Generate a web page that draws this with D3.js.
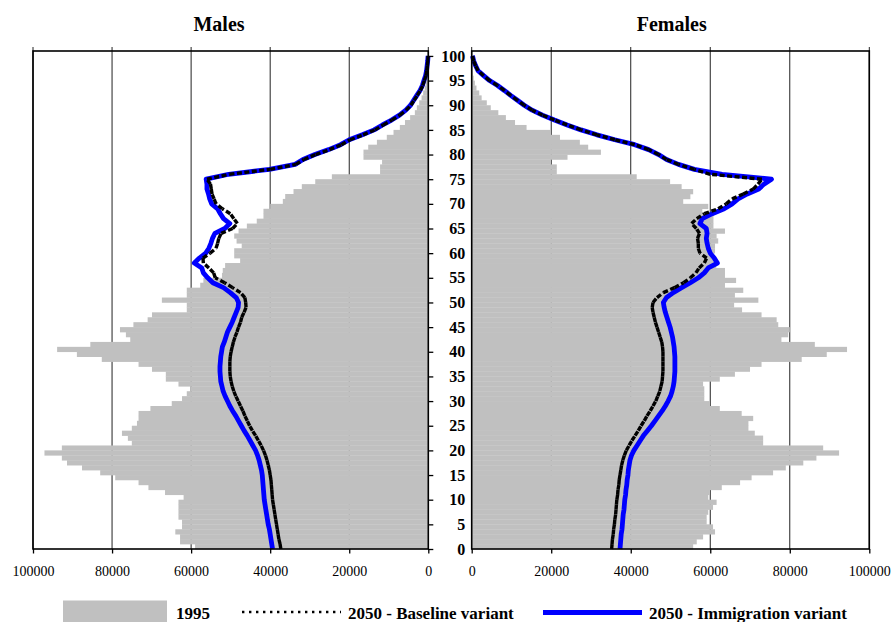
<!DOCTYPE html>
<html>
<head>
<meta charset="utf-8">
<script src="https://cdn.jsdelivr.net/npm/d3@7"></script>
<style>
  html, body { margin: 0; padding: 0; background: #fff; }
  svg { display: block; }
  svg text { font-family: "Liberation Serif", "Times New Roman", serif; }
</style>
</head>
<body>
<svg id="chart" width="894" height="622"></svg>
<script>
// ---------------- DATA (thousands of persons, index = age 0..100) ----------------
const ages = d3.range(0, 101);
const ageTicks = d3.range(0, 101, 5);
const xTicks = [0, 20000, 40000, 60000, 80000, 100000];
const panelTitles = ["Males", "Females"];
const legendLabels = ["1995", "2050 - Baseline variant", "2050 - Immigration variant"];

const male1995 = [
  59.0, 62.8, 62.8, 64.0, 62.3, 62.3, 63.2, 63.2, 63.2, 63.2,
  61.9, 66.6, 70.8, 73.3, 79.2, 83.0, 87.6, 91.4, 92.7, 97.1,
  92.7, 75.0, 76.0, 77.5, 75.0, 73.7, 73.3, 73.3, 70.3, 64.9,
  62.3, 61.1, 60.2, 63.2, 66.4, 66.4, 69.9, 73.3, 82.6, 88.9,
  93.9, 85.5, 75.4, 76.5, 78.0, 74.6, 71.0, 69.9, 61.1, 61.1,
  67.4, 61.1, 61.1, 57.7, 56.9, 52.2, 52.0, 51.4, 47.6, 49.1,
  49.1, 47.2, 48.5, 49.1, 48.0, 45.9, 43.4, 41.7, 41.7, 40.0,
  36.8, 36.2, 34.1, 32.0, 28.6, 24.4, 12.2, 12.2, 11.7, 16.4,
  16.4, 15.2, 13.0, 10.5, 8.8, 7.2, 5.9, 4.6, 3.4, 2.9,
  2.3, 1.7, 1.3, 0.9, 0.6, 0.4, 0.25, 0.15, 0.1, 0.05, 0.03
];
const female1995 = [
  55.7, 56.6, 58.2, 61.2, 60.7, 59.1, 59.1, 59.5, 60.7, 61.6,
  59.5, 59.9, 62.9, 67.5, 70.4, 75.8, 79.0, 83.4, 86.7, 92.4,
  88.4, 73.3, 73.3, 71.2, 69.6, 69.6, 70.8, 67.9, 62.4, 59.9,
  58.5, 58.5, 58.5, 58.2, 62.4, 66.2, 70.0, 72.9, 83.0, 89.3,
  94.4, 86.3, 77.9, 79.6, 80.0, 77.1, 76.7, 72.9, 68.0, 66.0,
  72.1, 66.2, 68.3, 63.7, 66.5, 63.7, 63.7, 61.5, 61.0, 60.5,
  61.2, 61.2, 62.0, 61.6, 63.7, 60.8, 60.8, 60.8, 58.0, 59.5,
  53.2, 55.0, 55.7, 52.8, 49.9, 41.5, 21.4, 21.4, 19.7, 24.1,
  32.5, 29.3, 27.2, 22.2, 19.8, 13.8, 10.9, 8.6, 6.7, 4.8,
  3.8, 2.5, 1.9, 1.2, 0.8, 0.5, 0.3, 0.2, 0.1, 0.05, 0.03
];
const maleBaseline2050 = [
  37.3, 37.5, 37.8, 38.0, 38.2, 38.4, 38.6, 38.8, 39.0, 39.2,
  39.4, 39.5, 39.6, 39.7, 39.8, 40.0, 40.2, 40.5, 40.8, 41.2,
  41.7, 42.3, 43.0, 43.7, 44.5, 45.2, 45.8, 46.4, 46.9, 47.5,
  48.1, 48.7, 49.2, 49.6, 49.9, 50.1, 50.2, 50.2, 50.2, 50.1,
  49.9, 49.6, 49.3, 48.9, 48.4, 48.0, 47.5, 47.2, 46.6, 46.1,
  46.2, 46.4, 47.5, 49.5, 51.5, 53.9, 54.3, 55.5, 56.9, 57.0,
  55.2, 53.7, 53.3, 53.0, 52.4, 49.5, 48.3, 49.2, 50.1, 52.1,
  53.7, 54.2, 54.7, 54.9, 55.1, 56.0, 50.3, 40.0, 33.5, 31.5,
  28.5, 25.0, 22.0, 19.8, 16.5, 13.5, 11.4, 9.2, 7.2, 5.6,
  4.4, 3.6, 2.8, 2.0, 1.4, 1.0, 0.6, 0.4, 0.25, 0.12, 0.05
];
const maleImmigration2050 = [
  39.4, 39.6, 39.8, 40.0, 40.2, 40.5, 40.7, 40.9, 41.1, 41.3,
  41.5, 41.6, 41.7, 41.8, 41.9, 42.0, 42.2, 42.5, 42.8, 43.2,
  43.7, 44.4, 45.1, 45.8, 46.6, 47.3, 48.0, 48.7, 49.5, 50.2,
  50.8, 51.4, 51.9, 52.2, 52.5, 52.6, 52.7, 52.7, 52.6, 52.5,
  52.3, 52.1, 51.6, 51.2, 50.8, 50.2, 49.6, 49.1, 48.6, 48.1,
  48.0, 48.6, 50.1, 51.8, 54.5, 55.8, 56.9, 57.3, 59.2, 57.9,
  56.3, 55.5, 55.0, 54.6, 54.0, 51.5, 50.2, 51.8, 52.6, 53.3,
  54.8, 55.3, 55.6, 56.0, 56.0, 56.2, 50.5, 40.2, 33.7, 31.7,
  28.7, 25.2, 22.2, 20.0, 16.7, 13.7, 11.6, 9.3, 7.3, 5.7,
  4.5, 3.7, 2.9, 2.1, 1.5, 1.1, 0.7, 0.45, 0.3, 0.15, 0.06
];
const femaleBaseline2050 = [
  35.2, 35.3, 35.4, 35.6, 35.7, 35.9, 36.0, 36.2, 36.3, 36.4,
  36.5, 36.7, 36.8, 37.0, 37.1, 37.3, 37.5, 37.7, 38.0, 38.4,
  38.9, 39.6, 40.3, 41.1, 41.9, 42.6, 43.4, 44.1, 44.9, 45.6,
  46.3, 46.8, 47.3, 47.6, 47.9, 48.0, 48.1, 48.1, 48.1, 48.1,
  48.1, 48.0, 47.8, 47.4, 47.0, 46.6, 46.2, 45.9, 45.6, 45.4,
  45.6, 46.6, 48.2, 51.0, 53.3, 55.0, 56.4, 57.2, 58.5, 59.1,
  57.4, 57.0, 57.0, 56.8, 57.3, 56.5, 55.3, 56.6, 58.5, 62.0,
  64.0, 65.5, 68.3, 70.8, 72.0, 73.0, 60.0, 56.0, 52.0, 49.0,
  47.0, 44.5, 41.0, 36.0, 31.5, 27.5, 24.0, 20.8, 17.8, 15.2,
  13.2, 11.5, 9.8, 8.2, 6.5, 4.5, 3.0, 1.6, 1.0, 0.5, 0.2
];
const femaleImmigration2050 = [
  37.3, 37.4, 37.5, 37.6, 37.8, 37.9, 38.0, 38.1, 38.3, 38.4,
  38.5, 38.7, 38.8, 39.0, 39.1, 39.3, 39.4, 39.6, 39.8, 40.2,
  40.8, 41.6, 42.4, 43.2, 44.2, 45.2, 46.1, 47.0, 47.9, 48.7,
  49.4, 50.0, 50.4, 50.7, 50.9, 51.0, 51.1, 51.1, 51.1, 51.1,
  51.0, 50.9, 50.7, 50.5, 50.2, 49.9, 49.5, 49.1, 48.7, 48.4,
  48.2, 49.0, 50.7, 52.8, 55.0, 57.0, 58.5, 59.5, 61.8, 61.0,
  60.0, 59.5, 59.2, 59.0, 59.2, 59.0, 57.4, 58.0, 60.5, 63.5,
  65.5, 67.0, 69.3, 72.2, 73.5, 75.4, 63.0, 56.0, 52.0, 49.0,
  47.0, 44.5, 41.0, 36.0, 31.5, 27.5, 24.0, 20.8, 17.8, 15.2,
  13.2, 11.5, 9.8, 8.2, 6.5, 4.5, 3.0, 1.6, 1.0, 0.5, 0.2
];

// ---------------- LAYOUT ----------------
const svg = d3.select("#chart");
const plotTop = 51, plotBottom = 549;
const y = d3.scaleLinear().domain([0, 101]).range([plotBottom, plotTop]);
const xM = d3.scaleLinear().domain([0, 100000]).range([428.3, 33]);
const xF = d3.scaleLinear().domain([0, 100000]).range([471.7, 869.3]);

const FONT = '"Liberation Serif", "Times New Roman", serif';
const GRAY = "#c0c0c0";
const BLUE = "#0000ff";

function panel(x, bars, base, immi, title, titleX) {
  const g = svg.append("g");
  const x0 = Math.min(...x.range()), x1 = Math.max(...x.range());

  // gridlines (behind bars), extending slightly above the top as ticks
  g.selectAll("line.grid").data(xTicks).enter().append("line")
    .attr("x1", d => x(d)).attr("x2", d => x(d))
    .attr("y1", plotTop - 4).attr("y2", plotBottom)
    .attr("stroke", "#222").attr("stroke-width", 1);

  // 1995 bars
  g.selectAll("rect.bar").data(ages).enter().append("rect")
    .attr("x", a => Math.min(x(0), x(bars[a] * 1000)))
    .attr("width", a => Math.abs(x(bars[a] * 1000) - x(0)))
    .attr("y", a => y(a + 1))
    .attr("height", a => y(a) - y(a + 1) + 0.3)
    .attr("fill", GRAY);

  const line = d3.line().x(d => x(d[1] * 1000)).y(d => y(d[0]));

  // immigration variant (blue, solid)
  g.append("path")
    .attr("d", line(ages.map(a => [a, immi[a]])))
    .attr("fill", "none").attr("stroke", BLUE).attr("stroke-width", 4.8)
    .attr("stroke-linejoin", "round");

  // baseline variant (black dotted; dash pattern restarts at each segment)
  const pts = ages.map(a => [a, base[a]]);
  g.selectAll("path.base").data(d3.pairs(pts)).enter().append("path")
    .attr("d", d => line(d))
    .attr("fill", "none").attr("stroke", "#000").attr("stroke-width", 3.4)
    .attr("stroke-dasharray", "5,2.5");

  // frame
  g.append("rect").attr("x", x0).attr("y", plotTop).attr("width", x1 - x0).attr("height", plotBottom - plotTop)
    .attr("fill", "none").attr("stroke", "#000").attr("stroke-width", 1.6);

  // bottom axis
  const ax = g.append("g").attr("transform", `translate(0,${plotBottom})`)
    .call(d3.axisBottom(x).tickValues(xTicks).tickSize(4.5).tickPadding(13).tickFormat(d3.format("d")));
  ax.select(".domain").remove();
  ax.selectAll("line").attr("stroke", "#000").attr("stroke-width", 1.3);
  ax.selectAll("text").style("font-family", FONT).style("font-size", "14px")
    .style("font-weight", "normal").attr("fill", "#000");

  // title
  svg.append("text").attr("x", titleX).attr("y", 31).attr("text-anchor", "middle")
    .style("font-family", FONT).style("font-size", "20px").style("font-weight", "bold").text(title);
}

panel(xM, male1995, maleBaseline2050, maleImmigration2050, panelTitles[0], 219);
panel(xF, female1995, femaleBaseline2050, femaleImmigration2050, panelTitles[1], 671.7);

// age axis (between the panels)
const ay = svg.append("g").attr("transform", `translate(${xM(0)},0)`)
  .call(d3.axisRight(y).tickValues(ageTicks).tickSize(5).tickFormat(d3.format("d")));
ay.select(".domain").remove();
ay.selectAll("line").attr("stroke", "#000").attr("stroke-width", 1.3);
ay.selectAll("text").attr("x", 37).attr("text-anchor", "end")
  .style("font-family", FONT).style("font-size", "16px").style("font-weight", "bold").attr("fill", "#000");

// ---------------- LEGEND ----------------
const lg = svg.append("g");
lg.append("rect").attr("x", 63).attr("y", 600.5).attr("width", 104).attr("height", 24).attr("fill", GRAY);
lg.append("line").attr("x1", 242).attr("x2", 341).attr("y1", 612).attr("y2", 612)
  .attr("stroke", "#000").attr("stroke-width", 2.4).attr("stroke-dasharray", "2.4,4.6");
lg.append("line").attr("x1", 543).attr("x2", 642).attr("y1", 612.5).attr("y2", 612.5)
  .attr("stroke", BLUE).attr("stroke-width", 5);
lg.selectAll("text").data([[176, legendLabels[0]], [348, legendLabels[1]], [649, legendLabels[2]]])
  .enter().append("text")
  .attr("x", d => d[0]).attr("y", 619).text(d => d[1])
  .style("font-family", FONT).style("font-size", "17px").style("font-weight", "bold");
</script>
</body>
</html>
